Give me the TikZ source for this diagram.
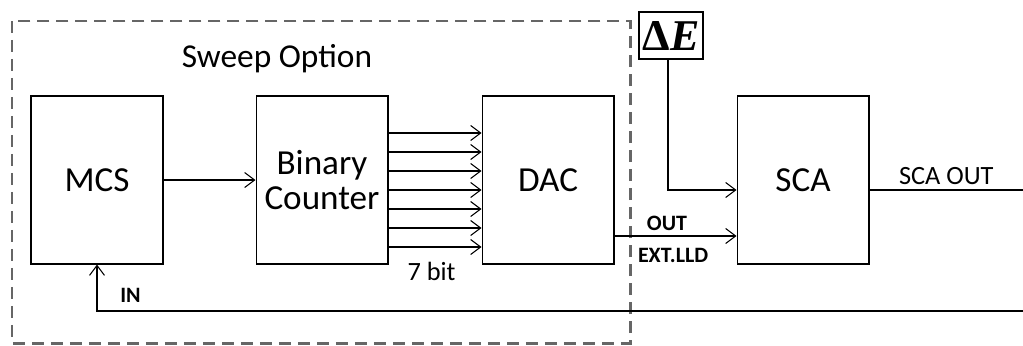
\documentclass[tikz,border=0pt]{standalone}
\usepackage{fontspec}
\setmainfont{Carlito}
\newfontfamily\timesfont{Liberation Serif}
\usepackage{tikz}
\usetikzlibrary{arrows.meta, positioning}

\begin{document}
\begin{tikzpicture}[x=0.02cm, y=-0.02cm, node distance=1.84cm and 1.84cm,
    block/.style={rectangle, draw, line width=0.6pt, minimum width=2.64cm, minimum height=3.36cm, align=center, inner sep=0pt, font=\fontsize{20}{20}\selectfont},
    lbl/.style={inner sep=0pt, font=\fontsize{15}{15}\selectfont},
    small/.style={inner sep=0pt, font=\fontsize{12.5}{12.5}\selectfont\bfseries},
    dashbox/.style={draw=black!60, line width=1.7pt, dash pattern=on 0.24cm off 0.14cm},
    arrow/.style={line width=0.6pt,-{Straight Barb[length=0.2cm,width=0.3cm]}}]

    \useasboundingbox (0,0) rectangle (1023,345);

    % Sweep option frame
    \draw [dashbox] (12,21) rectangle (630,343);
    \node [inner sep=0pt, font=\fontsize{19}{19}\selectfont] (sweep) at (277,59) {Sweep Option};

    % Nodes
    \node [block] (mcs) at (97,180) {MCS};
    \node [block, right=of mcs] (cnt) {Binary\\Counter};
    \node [block, right=1.86cm of cnt] (dac) {DAC};
    \node [block, right=2.44cm of dac] (sca) {SCA};
    \node [draw, line width=0.6pt, minimum width=1.28cm, minimum height=0.94cm, inner sep=0pt, font=\fontsize{25}{25}\timesfont\bfseries] (de) at (671,35.5) {Δ\itshape E};
    \coordinate (scaout) at (1023,190);
    \coordinate (fbin) at (1023,311);

    % Arrows
    \draw [arrow] (mcs) -- (cnt);
    \foreach \y in {133,152,171,190,209,228,247}
        \draw [arrow] (cnt.east |- 0,\y) -- (dac.west |- 0,\y);
    \node [lbl, below=-0.05cm of dac.south west, xshift=-1.0cm] (bits) {7 bit};
    \draw [arrow] (de.south -| 668,0) |- (sca.west |- 0,190);
    \draw [arrow] (dac.east |- 0,236) -- node [small, pos=0.43, above=0.1cm] (out) {OUT}
        node [small, pos=0.48, below=0.24cm] (lld) {EXT.LLD} (sca.west |- 0,236);
    \draw [line width=0.6pt] (sca.east |- scaout) -- node [lbl, above=0.1cm] (scalbl) {SCA OUT} (scaout);
    \draw [arrow] (fbin) -- (mcs.south |- fbin) -- (mcs.south);
    \node [small, anchor=south west] (in) at (120,303) {IN};

\end{tikzpicture}
\end{document}
